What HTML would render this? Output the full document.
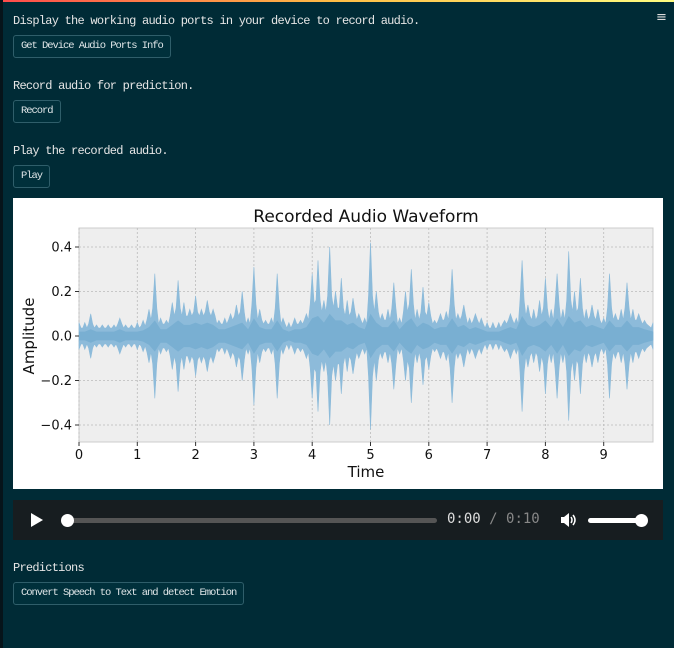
<!DOCTYPE html>
<html><head><meta charset="utf-8"><style>
*{margin:0;padding:0;box-sizing:border-box}
body{width:674px;height:648px;background:#002b36;font-family:"Liberation Mono",monospace;color:#e6e6e6;position:relative;overflow:hidden}
.t{position:absolute;left:13px;font-size:12px;letter-spacing:-0.75px}
.b{position:absolute;left:13px;height:23px;border:1px solid #2f5e6a;border-radius:3px;background:#00303b;color:#dfe6e8;font-family:"Liberation Mono",monospace;font-size:10.5px;letter-spacing:-1.05px;padding:0 7px;line-height:21px}
</style></head><body>
<div style="position:absolute;left:0;top:0;width:674px;height:2px;background:linear-gradient(90deg,#ff4b4b,#ffbd45,#fffd80)"></div>
<div style="position:absolute;left:0;top:0;width:3px;height:648px;background:#06141a"></div>
<div style="position:absolute;left:656px;top:10px;font-size:13px;color:#ddd;font-family:'DejaVu Sans',sans-serif">≡</div>
<div class="t" style="top:14px">Display the working audio ports in your device to record audio.</div>
<button class="b" style="top:35px">Get Device Audio Ports Info</button>
<div class="t" style="top:79px">Record audio for prediction.</div>
<button class="b" style="top:100px">Record</button>
<div class="t" style="top:144px">Play the recorded audio.</div>
<button class="b" style="top:165px">Play</button>

<svg style="position:absolute;left:13px;top:198px" width="650" height="291" viewBox="13 198 650 291">
<rect x="13" y="198" width="650" height="291" fill="#fff"/>
<rect x="79" y="228" width="574" height="214" fill="#eeeeee" stroke="#cccccc"/>
<g id="grid"></g>
<g id="wave"></g>
<g id="ticks" font-family="'DejaVu Sans',sans-serif" font-size="13" fill="#111"></g>
<text x="366" y="222" text-anchor="middle" font-family="'DejaVu Sans',sans-serif" font-size="17" fill="#111">Recorded Audio Waveform</text>
<text x="366" y="477" text-anchor="middle" font-family="'DejaVu Sans',sans-serif" font-size="15" fill="#111">Time</text>
<text transform="translate(34,336) rotate(-90)" text-anchor="middle" font-family="'DejaVu Sans',sans-serif" font-size="15" fill="#111">Amplitude</text>
</svg>

<div style="position:absolute;left:13px;top:500px;width:650px;height:40px;background:#171d20">
<div style="position:absolute;left:18px;top:13px;width:0;height:0;border-left:12px solid #fff;border-top:7px solid transparent;border-bottom:7px solid transparent"></div>
<div style="position:absolute;left:55px;top:18px;width:369px;height:5px;border-radius:3px;background:#555"></div>
<div style="position:absolute;left:48px;top:14px;width:13px;height:13px;border-radius:50%;background:#fff"></div>
<div style="position:absolute;left:434px;top:11px;font-family:'DejaVu Sans Mono',monospace;font-size:14px;color:#ddd">0:00 <span style="color:#888">/ 0:10</span></div>
<svg style="position:absolute;left:547px;top:13px" width="18" height="14" viewBox="0 0 18 14"><path d="M1 4h3l5-4v14l-5-4H1z" fill="#fff"/><path d="M11 4q2 3 0 6M13 2q4 5 0 10" stroke="#fff" stroke-width="1.5" fill="none"/></svg>
<div style="position:absolute;left:575px;top:18px;width:55px;height:5px;border-radius:3px;background:#fff"></div>
<div style="position:absolute;left:622px;top:14px;width:13px;height:13px;border-radius:50%;background:#fff"></div>
</div>

<div class="t" style="top:561px">Predictions</div>
<button class="b" style="top:582px">Convert Speech to Text and detect Emotion</button>

<script>
const times=[0,0.1,0.2,0.3,0.4,0.5,0.6,0.7,0.8,0.9,1.0,1.1,1.2,1.3,1.4,1.5,1.6,1.7,1.8,1.9,2.0,2.1,2.2,2.3,2.4,2.5,2.6,2.7,2.8,2.9,3.0,3.1,3.2,3.3,3.4,3.5,3.6,3.7,3.8,3.9,4.0,4.1,4.2,4.3,4.4,4.5,4.6,4.7,4.8,4.9,5.0,5.1,5.2,5.3,5.4,5.5,5.6,5.7,5.8,5.9,6.0,6.1,6.2,6.3,6.4,6.5,6.6,6.7,6.8,6.9,7.0,7.1,7.2,7.3,7.4,7.5,7.6,7.7,7.8,7.9,8.0,8.1,8.2,8.3,8.4,8.5,8.6,8.7,8.8,8.9,9.0,9.1,9.2,9.3,9.4,9.5,9.6,9.7,9.85];
const peaks=[0.06,0.06,0.10,0.05,0.05,0.05,0.05,0.08,0.05,0.05,0.06,0.07,0.12,0.28,0.08,0.07,0.15,0.25,0.15,0.12,0.18,0.12,0.16,0.12,0.07,0.08,0.10,0.14,0.20,0.08,0.31,0.12,0.07,0.08,0.28,0.08,0.06,0.08,0.07,0.10,0.28,0.34,0.16,0.40,0.20,0.26,0.16,0.17,0.10,0.08,0.42,0.20,0.10,0.12,0.24,0.08,0.20,0.30,0.12,0.22,0.15,0.07,0.10,0.11,0.30,0.10,0.14,0.08,0.10,0.08,0.06,0.06,0.06,0.07,0.10,0.08,0.34,0.14,0.12,0.16,0.26,0.12,0.28,0.12,0.38,0.20,0.26,0.12,0.14,0.12,0.08,0.28,0.10,0.12,0.24,0.12,0.10,0.07,0.06];
const rms=[0.02,0.02,0.03,0.02,0.02,0.02,0.02,0.03,0.02,0.02,0.02,0.025,0.04,0.07,0.03,0.03,0.05,0.07,0.05,0.05,0.06,0.05,0.06,0.05,0.03,0.03,0.04,0.05,0.06,0.03,0.08,0.04,0.03,0.03,0.07,0.03,0.02,0.03,0.03,0.04,0.08,0.09,0.06,0.10,0.07,0.07,0.05,0.06,0.04,0.03,0.10,0.06,0.04,0.04,0.07,0.03,0.06,0.08,0.04,0.06,0.05,0.03,0.04,0.04,0.08,0.04,0.05,0.03,0.04,0.03,0.02,0.02,0.02,0.03,0.04,0.03,0.09,0.05,0.04,0.05,0.07,0.04,0.08,0.04,0.09,0.06,0.07,0.04,0.05,0.04,0.03,0.07,0.04,0.04,0.07,0.04,0.04,0.03,0.02];
const xTicks=[0,1,2,3,4,5,6,7,8,9];
const yTicks=[0.4,0.2,0.0,-0.2,-0.4];
const yTickLabels=["0.4","0.2","0.0","\u22120.2","\u22120.4"];
const X=t=>79+t*58.3, Y=v=>336-v*222.5;
const NS="http://www.w3.org/2000/svg";
function mk(tag,attrs,parent){const e=document.createElementNS(NS,tag);for(const k in attrs)e.setAttribute(k,attrs[k]);parent.appendChild(e);return e;}
const grid=document.getElementById('grid'),wave=document.getElementById('wave'),ticks=document.getElementById('ticks');
xTicks.forEach(t=>{
 const l=mk('line',{x1:X(t),x2:X(t),y1:228,y2:442,stroke:'#bbb','stroke-dasharray':'2,2','stroke-width':0.8},grid);
 
 
 mk('line',{x1:X(t),x2:X(t),y1:442,y2:446,stroke:'#333'},ticks);
 const tx=mk('text',{x:X(t),y:459,'text-anchor':'middle'},ticks);tx.textContent=t;
 
 
});
yTicks.forEach((v,i)=>{
 const l=mk('line',{x1:79,x2:653,y1:Y(v),y2:Y(v),stroke:'#bbb','stroke-dasharray':'2,2','stroke-width':0.8},grid);
 
 
 mk('line',{x1:75,x2:79,y1:Y(v),y2:Y(v),stroke:'#333'},ticks);
 const tx=mk('text',{x:72,y:Y(v)+4.5,'text-anchor':'end'},ticks);tx.textContent=yTickLabels[i];
 
 
});
// spiky envelope: body at ~2x rms, sharp spikes reaching each peak
function spiky(){let up=[],dn=[];
 times.forEach((t,i)=>{const b=Math.min(peaks[i],rms[i]*1.8);
  const pts=[[t-0.035,b],[t,peaks[i]],[t+0.035,b]];
  pts.forEach(p=>{const x=Math.max(79,Math.min(653,X(p[0])));up.push(x.toFixed(1)+','+Y(p[1]).toFixed(1));dn.unshift(x.toFixed(1)+','+Y(-p[1]).toFixed(1));});});
 return up.concat(dn).join(' ');}
function band(arr){let up=[],dn=[];times.forEach((t,i)=>{up.push(X(t).toFixed(1)+','+Y(arr[i]).toFixed(1));dn.unshift(X(t).toFixed(1)+','+Y(-arr[i]).toFixed(1));});return up.concat(dn).join(' ');}
const outer=mk('polygon',{points:spiky(),fill:'#8dbbda',stroke:'#8dbbda','stroke-width':0.6},wave);


const inner=mk('polygon',{points:band(rms),fill:'#79afd2'},wave);


</script>
</body></html>
